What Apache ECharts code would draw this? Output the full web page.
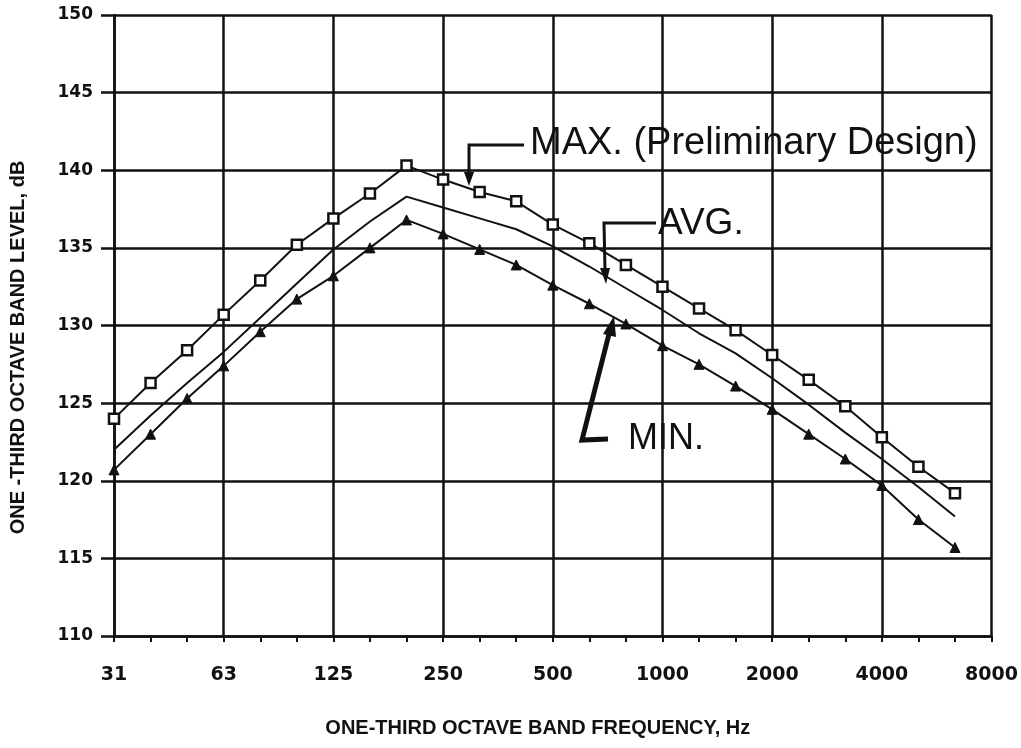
<!DOCTYPE html>
<html>
<head>
<meta charset="utf-8">
<title>One-third octave band levels</title>
<script src="https://cdn.jsdelivr.net/npm/echarts@6.0.0/dist/echarts.min.js"></script>
<style>
  html, body { margin: 0; padding: 0; background: #fff; }
  #chart { width: 1021px; height: 748px; }
</style>
</head>
<body>
<div id="chart"></div>
<script>
// one-third octave band centre frequencies, Hz
const bands = ['31', '40', '50', '63', '80', '100', '125', '160', '200', '250', '315', '400', '500',
  '630', '800', '1000', '1250', '1600', '2000', '2500', '3150', '4000', '5000', '6300', '8000'];

// band levels, dB (31 Hz .. 6300 Hz)
const maxLevel = [124.0, 126.3, 128.4, 130.7, 132.9, 135.2, 136.9, 138.5, 140.3, 139.4, 138.6, 138.0,
  136.5, 135.3, 133.9, 132.5, 131.1, 129.7, 128.1, 126.5, 124.8, 122.8, 120.9, 119.2];
const avgLevel = [122.0, 124.2, 126.3, 128.3, 130.5, 132.7, 134.9, 136.7, 138.3, 137.6, 136.9, 136.2,
  135.1, 133.8, 132.4, 131.0, 129.5, 128.2, 126.6, 124.9, 123.1, 121.4, 119.6, 117.7];
const minLevel = [120.7, 123.0, 125.3, 127.4, 129.6, 131.7, 133.2, 135.0, 136.8, 135.9, 134.9, 133.9,
  132.6, 131.4, 130.1, 128.7, 127.5, 126.1, 124.6, 123.0, 121.4, 119.7, 117.5, 115.7];

const ink = '#111';
const labelFont = 'DejaVu Sans';
const titleFont = 'Liberation Sans';

const chart = echarts.init(document.getElementById('chart'), null, { renderer: 'canvas' });

// leader lines + arrow heads for the curve labels
const stroke = (w) => ({ stroke: ink, lineWidth: w, fill: null, lineJoin: 'miter' });
const annotations = [
  { type: 'text', left: 530, top: 125, style: { text: 'MAX. (Preliminary Design)', font: '38px "Liberation Sans"', fill: ink } },
  { type: 'polyline', shape: { points: [[524, 145], [469, 145], [469, 174]] }, style: stroke(3) },
  { type: 'polygon', shape: { points: [[464, 172], [474, 172], [469, 186]] }, style: { fill: ink } },

  { type: 'text', left: 658, top: 205, style: { text: 'AVG.', font: '37px "Liberation Sans"', fill: ink } },
  { type: 'polyline', shape: { points: [[656, 223], [604, 223], [605, 270]] }, style: stroke(3) },
  { type: 'polygon', shape: { points: [[600, 268], [610, 268], [606, 284]] }, style: { fill: ink } },

  { type: 'text', left: 628, top: 421, style: { text: 'MIN.', font: '36px "Liberation Sans"', fill: ink } },
  { type: 'polyline', shape: { points: [[608, 439], [582, 440], [609, 334]] }, style: stroke(5) },
  { type: 'polygon', shape: { points: [[603, 334], [616, 337], [614, 316]] }, style: { fill: ink } }
];

const option = {
  backgroundColor: '#fff',
  animation: false,
  grid: { left: 113, right: 23, top: 15, bottom: 112 },
  xAxis: {
    type: 'category',
    data: bands,
    boundaryGap: false,
    name: 'ONE-THIRD OCTAVE BAND FREQUENCY, Hz',
    nameLocation: 'middle',
    nameGap: 82,
    nameTextStyle: { fontFamily: titleFont, fontWeight: 'bold', fontSize: 20, color: ink, padding: [0, 30, 0, 0] },
    axisLine: { lineStyle: { color: ink, width: 2.5 } },
    axisTick: { interval: 0, length: 6, lineStyle: { color: ink, width: 2 } },
    axisLabel: { interval: 2, margin: 30, fontFamily: labelFont, fontWeight: 'bold', fontSize: 19, color: ink },
    splitLine: { show: true, interval: 2, lineStyle: { color: ink, width: 2.5 } }
  },
  yAxis: {
    type: 'value',
    min: 110,
    max: 150,
    interval: 5,
    name: 'ONE -THIRD OCTAVE BAND LEVEL, dB',
    nameLocation: 'middle',
    nameGap: 86,
    nameTextStyle: { fontFamily: titleFont, fontWeight: 'bold', fontSize: 20, color: ink, padding: [0, 44, 0, 0] },
    axisLine: { show: true, lineStyle: { color: ink, width: 2.5 } },
    axisTick: { show: true, length: 13, lineStyle: { color: ink, width: 2.5 } },
    axisLabel: { margin: 21, fontFamily: labelFont, fontWeight: 'bold', fontSize: 17, color: ink },
    splitLine: { show: true, lineStyle: { color: ink, width: 2.5 } }
  },
  series: [
    {
      name: 'MAX.',
      type: 'line',
      data: maxLevel,
      symbol: 'rect',
      symbolSize: 10,
      showAllSymbol: true,
      lineStyle: { color: ink, width: 2 },
      itemStyle: { color: '#fff', borderColor: ink, borderWidth: 2.5 },
      z: 4
    },
    {
      name: 'AVG.',
      type: 'line',
      data: avgLevel,
      symbol: 'none',
      lineStyle: { color: ink, width: 2 },
      z: 3
    },
    {
      name: 'MIN.',
      type: 'line',
      data: minLevel,
      symbol: 'triangle',
      symbolSize: 10,
      showAllSymbol: true,
      lineStyle: { color: ink, width: 2 },
      itemStyle: { color: ink, borderColor: ink, borderWidth: 1 },
      z: 4
    }
  ],
  graphic: annotations
};

chart.setOption(option);
window.addEventListener('resize', () => chart.resize());
</script>
</body>
</html>
